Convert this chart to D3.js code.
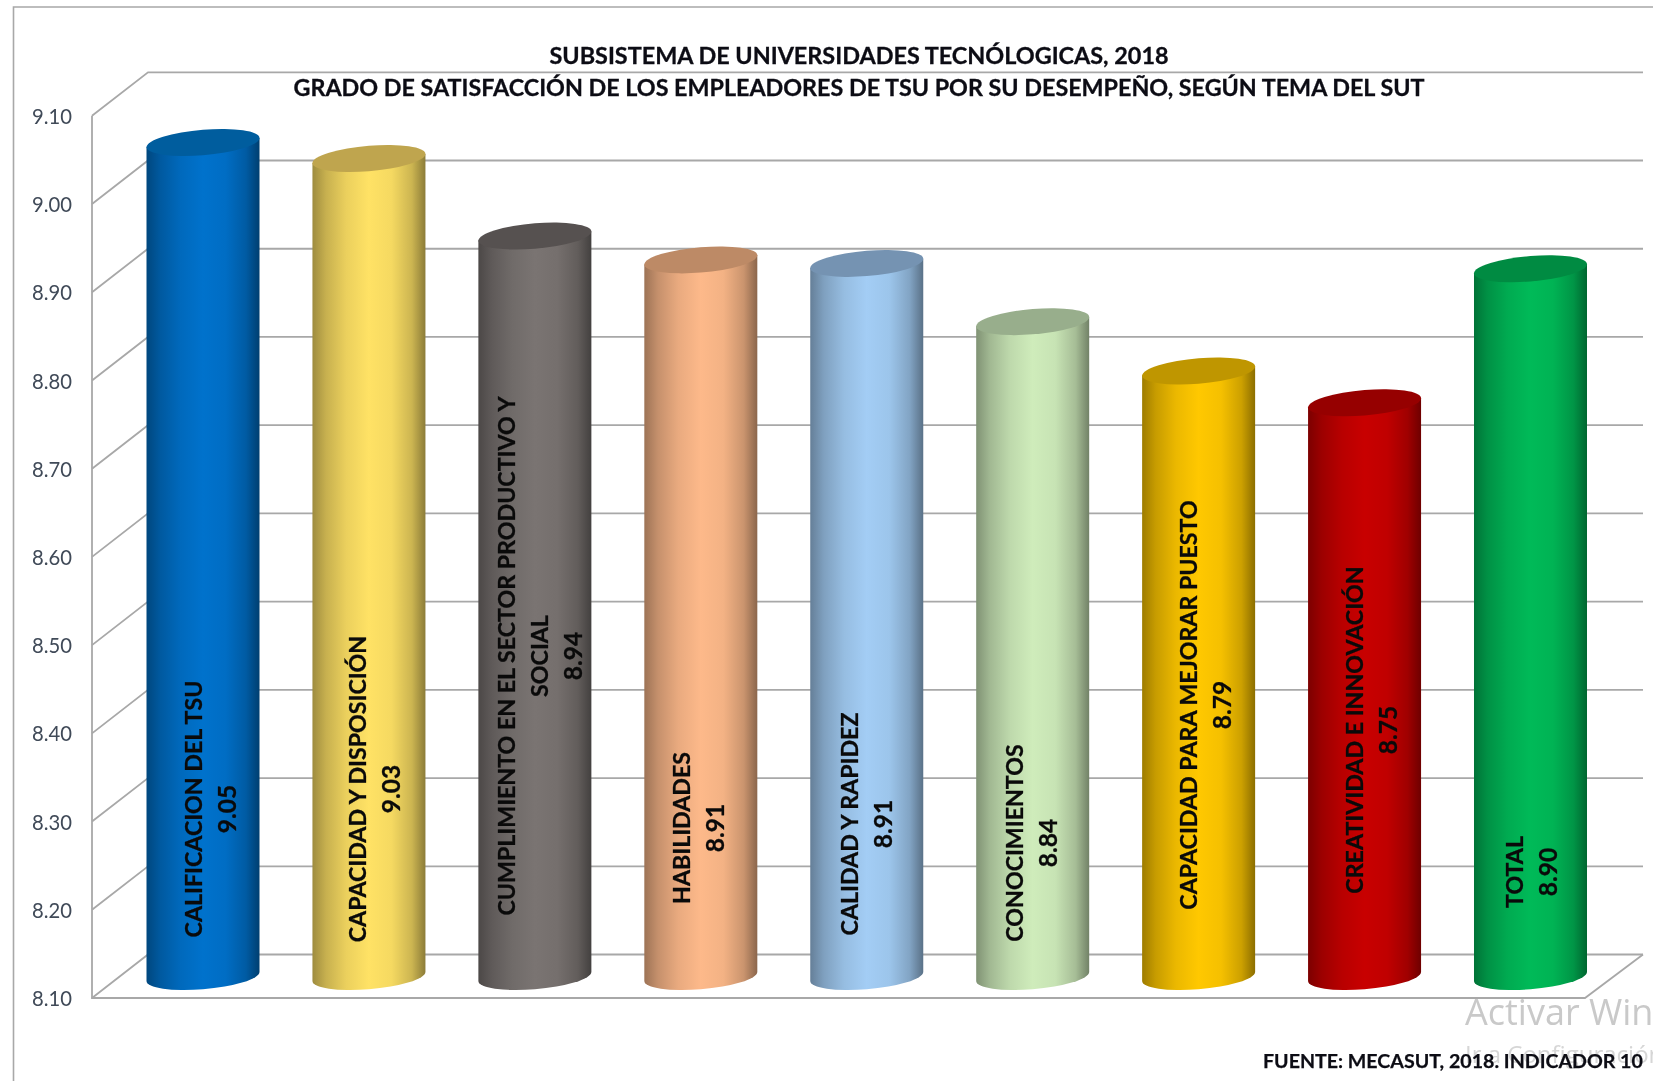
<!DOCTYPE html>
<html>
<head>
<meta charset="utf-8">
<script src="https://cdn.jsdelivr.net/npm/d3@7"></script>
<style>
  html, body { margin: 0; padding: 0; background: #fff; overflow: hidden; }
  svg { display: block; font-family: Lato, "Open Sans", sans-serif; filter: blur(0.4px); }
</style>
</head>
<body>
<svg width="1653" height="1081"></svg>
<script>
var categories = [
  ["CALIFICACION DEL TSU"],
  ["CAPACIDAD Y DISPOSICIÓN"],
  ["CUMPLIMIENTO EN EL SECTOR PRODUCTIVO Y", "SOCIAL"],
  ["HABILIDADES"],
  ["CALIDAD Y RAPIDEZ"],
  ["CONOCIMIENTOS"],
  ["CAPACIDAD PARA MEJORAR PUESTO"],
  ["CREATIVIDAD E INNOVACIÓN"],
  ["TOTAL"]
];
// the labels show them with two decimals
var values = [9.047, 9.029, 8.941, 8.914, 8.910, 8.844, 8.788, 8.752, 8.904];
var tickValues = [8.1, 8.2, 8.3, 8.4, 8.5, 8.6, 8.7, 8.8, 8.9, 9.0, 9.1];
var barColors = ["#0072cc", "#ffe265", "#7a7472", "#fdb98a", "#a3cdf5", "#cfecbb", "#ffc800", "#c80000", "#00ba58"];
var capColors = ["#005d9e", "#bfa54e", "#565150", "#bd8a66", "#7593b2", "#98ae8c", "#bf9600", "#960000", "#008b42"];

// label placement, these were moved by hand in the original
var labelShiftX = [7, 5, 5, -2, 0, -1, 7, 7, 1];
var labelCenterY = [809, 789, 656, 828, 824, 843, 705, 730, 872];

var title1 = "SUBSISTEMA DE UNIVERSIDADES TECNÓLOGICAS, 2018";
var title2 = "GRADO DE SATISFACCIÓN DE LOS EMPLEADORES DE TSU POR SU DESEMPEÑO, SEGÚN TEMA DEL SUT";
var source = "FUENTE: MECASUT, 2018. INDICADOR 10";

var svg = d3.select("svg");

// 3d box offsets
var depthX = 56, depthY = -43.5;
var gridColor = "#a8a8a8";

var y = d3.scaleLinear().domain([8.1, 9.1]).range([998, 115.8]);
var x = d3.scaleBand()
    .domain(d3.range(categories.length))
    .range([146.5, 1587])
    .paddingInner(0.319);

var plotLeft = 92, plotRight = 1585;
var a = x.bandwidth() / 2;
var b = 12.7;            // ellipse height of the cylinders
var tilt = -4.6;         // the caps lean a bit up to the right
var barLift = 20;        // bars stand in the middle of the floor
var floorLift = 21.5;

// frame
svg.append("path")
    .attr("d", "M13.5,1081V7H1653")
    .attr("fill", "none")
    .attr("stroke", gridColor)
    .attr("stroke-width", 1.6);

// walls
var grid = svg.append("g")
    .attr("fill", "none")
    .attr("stroke", gridColor)
    .attr("stroke-width", 1.8);

tickValues.forEach(function(t) {
    grid.append("path")
        .attr("d", "M" + plotLeft + "," + y(t) + "l" + depthX + "," + depthY + "H1643");
});
grid.append("path")
    .attr("d", "M" + plotLeft + "," + y(9.1) + "V" + y(8.1) + "H" + plotRight + "l58,-43.5");

// y axis, only the labels
var axis = svg.append("g")
    .attr("transform", "translate(75,1)")
    .call(d3.axisLeft(y).tickValues(tickValues).tickFormat(d3.format(".2f")).tickSize(0).tickPadding(3));
axis.select(".domain").remove();
axis.selectAll("text")
    .attr("font-family", "Lato, 'Open Sans', sans-serif")
    .attr("font-size", 20.5)
    .attr("fill", "#404a58")
    .attr("textLength", 40)
    .attr("lengthAdjust", "spacingAndGlyphs");

// gradients for the round look
var defs = svg.append("defs");
barColors.forEach(function(c, i) {
    var g = defs.append("linearGradient").attr("id", "grad" + i);
    var stops = [[0, 0.62], [0.12, 0.78], [0.3, 0.92], [0.5, 1], [0.7, 0.96], [0.88, 0.8], [1, 0.55]];
    stops.forEach(function(s) {
        var col = d3.rgb(c);
        g.append("stop")
            .attr("offset", s[0])
            .attr("stop-color", d3.rgb(col.r * s[1], col.g * s[1], col.b * s[1]).formatHex());
    });
});

// cylinders
var bars = svg.selectAll("g.bar")
    .data(values)
    .enter().append("g")
    .attr("class", "bar")
    .attr("transform", function(d, i) {
        return "translate(" + (x(i) + a) + ",0) skewY(" + tilt + ")";
    });

bars.append("path")
    .attr("fill", function(d, i) { return "url(#grad" + i + ")"; })
    .attr("d", function(d) {
        var top = y(d) - barLift, bot = y(8.1) - floorLift;
        return "M" + (-a) + "," + top + "V" + bot +
            "A" + a + "," + b + " 0 0 0 " + a + "," + bot +
            "V" + top + "Z";
    });

bars.append("ellipse")
    .attr("rx", a)
    .attr("ry", b)
    .attr("cy", function(d) { return y(d) - barLift; })
    .attr("fill", function(d, i) { return capColors[i]; });

// data labels, vertical, name and then the value
var lineGap = 33.5;
categories.forEach(function(lines, i) {
    var all = lines.concat(values[i].toFixed(2));
    var cx = x(i) + a + labelShiftX[i];
    var cy = labelCenterY[i];
    all.forEach(function(txt, j) {
        var px = cx + (j - (all.length - 1) / 2) * lineGap;
        svg.append("text")
            .attr("transform", "translate(" + px + "," + cy + ") rotate(-90)")
            .attr("text-anchor", "middle")
            .attr("dy", "0.36em")
            .attr("font-size", j == all.length - 1 ? 24.5 : 23.2)
            .attr("font-weight", 700)
            .attr("fill", "#0a0a0a")
            .attr("stroke", "#0a0a0a")
            .attr("stroke-width", 0.3)
            .text(txt);
    });
});

// titles
svg.append("text")
    .attr("x", 859).attr("y", 64)
    .attr("text-anchor", "middle")
    .attr("font-size", 23.4).attr("font-weight", 700).attr("fill", "#0c0c14")
    .attr("stroke", "#0c0c14").attr("stroke-width", 0.3)
    .text(title1);
svg.append("text")
    .attr("x", 859).attr("y", 96)
    .attr("text-anchor", "middle")
    .attr("font-size", 23.3).attr("font-weight", 700).attr("fill", "#0c0c14")
    .attr("stroke", "#0c0c14").attr("stroke-width", 0.3)
    .text(title2);

// windows watermark that got caught in the screenshot
svg.append("text")
    .attr("x", 1465).attr("y", 1025)
    .attr("font-family", "'Open Sans', sans-serif")
    .attr("font-size", 36).attr("fill", "#c9c9c9")
    .text("Activar Windows");
svg.append("text")
    .attr("x", 1465).attr("y", 1063)
    .attr("font-family", "'Open Sans', sans-serif")
    .attr("font-size", 24).attr("fill", "#d6d6d6")
    .text("Ir a Configuración");

svg.append("text")
    .attr("x", 1263).attr("y", 1068)
    .attr("font-size", 19.6).attr("font-weight", 700).attr("fill", "#0c0c14")
    .attr("stroke", "#0c0c14").attr("stroke-width", 0.25)
    .text(source);
</script>
</body>
</html>
